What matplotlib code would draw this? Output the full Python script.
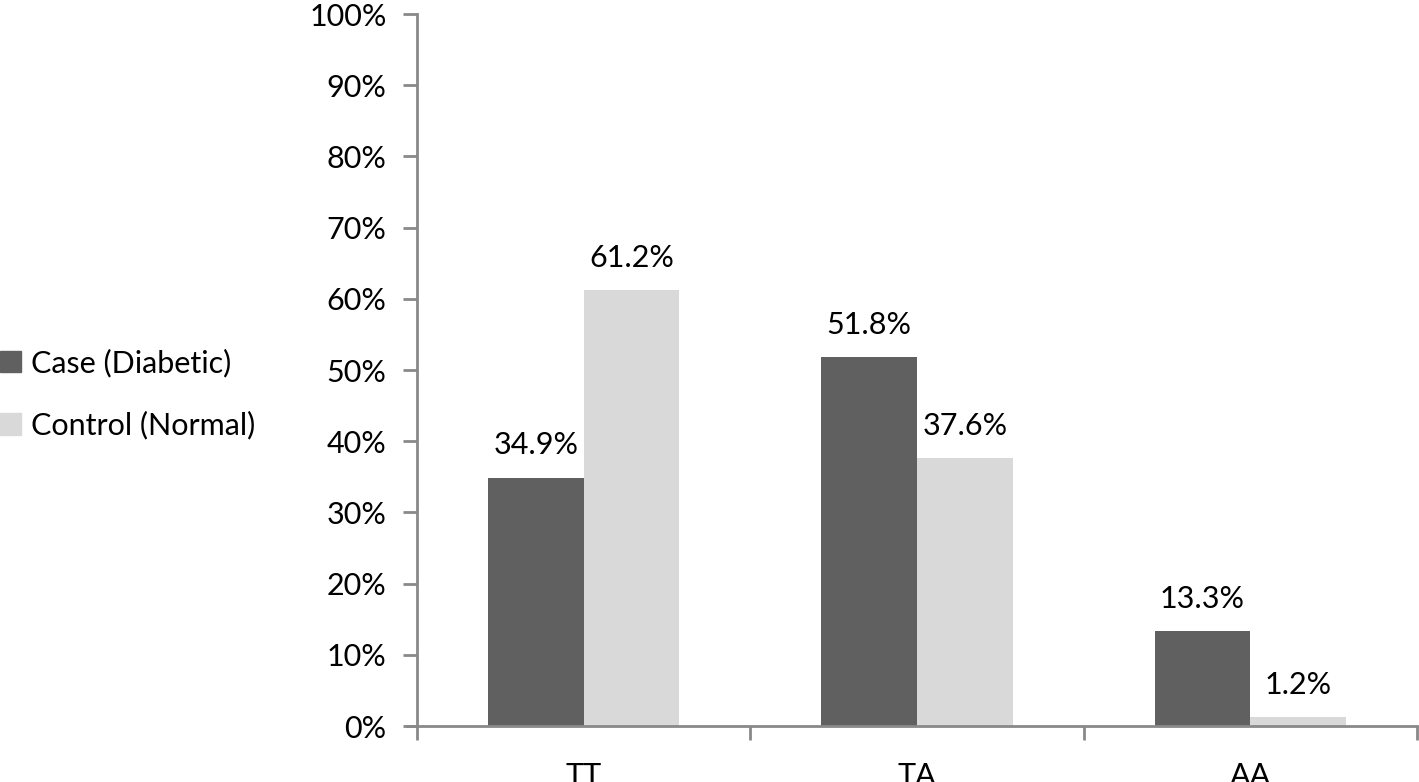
import matplotlib
matplotlib.use("Agg")
import matplotlib.pyplot as plt
from matplotlib.patches import Patch
import numpy as np

categories = ["TT", "TA", "AA"]
series_names = ["Case (Diabetic)", "Control (Normal)"]
case_values = [34.9, 51.8, 13.3]
control_values = [61.2, 37.6, 1.2]
colors = ["#606060", "#d9d9d9"]

plt.rcParams['font.family'] = ['Lato', 'DejaVu Sans']
FS = 22

fig = plt.figure(figsize=(14.19, 7.82), dpi=100)
ax = fig.add_axes([0.2939, 0.0716, 0.7047, 0.9104])

x = np.arange(len(categories))
w = 0.287
b1 = ax.bar(x - w/2, case_values, w, color=colors[0], label=series_names[0])
b2 = ax.bar(x + w/2, control_values, w, color=colors[1], label=series_names[1])

for bars, vals in ((b1, case_values), (b2, control_values)):
    for r, v in zip(bars, vals):
        ax.annotate(f"{v:.1f}%", (r.get_x() + r.get_width()/2, r.get_height()),
                    xytext=(0, 13), textcoords="offset points", ha="center", va="bottom",
                    fontsize=FS)

ax.set_xlim(-0.5, len(categories) - 0.5)
ax.set_ylim(0, 100)
ax.set_yticks(np.arange(0, 101, 10))
ax.set_yticklabels([f"{t}%" for t in range(0, 101, 10)], fontsize=FS)
ax.set_xticks(x)
ax.set_xticklabels(categories, fontsize=FS)
ax.tick_params(axis='x', length=0, pad=26)
ax.set_xticks(np.arange(-0.5, len(categories)), minor=True)
ax.tick_params(axis='x', which='minor', length=10, width=2, color="#898989", direction='out')
ax.tick_params(axis='y', length=10, width=2, color="#898989", pad=12)
for s in ("top", "right"):
    ax.spines[s].set_visible(False)
for s in ("left", "bottom"):
    ax.spines[s].set_color("#898989")
    ax.spines[s].set_linewidth(2)
ax.spines["bottom"].set_bounds(-0.5 - 0.03, len(categories) - 0.5)

handles = [Patch(color=colors[0]), Patch(color=colors[1])]
fig.legend(handles, series_names, loc="center left", bbox_to_anchor=(0.0, 0.496),
           frameon=False, fontsize=FS, handlelength=0.7, handleheight=0.7,
           handletextpad=0.3, labelspacing=1.1, borderpad=0, borderaxespad=0)

fig.savefig("out.png", dpi=100)
